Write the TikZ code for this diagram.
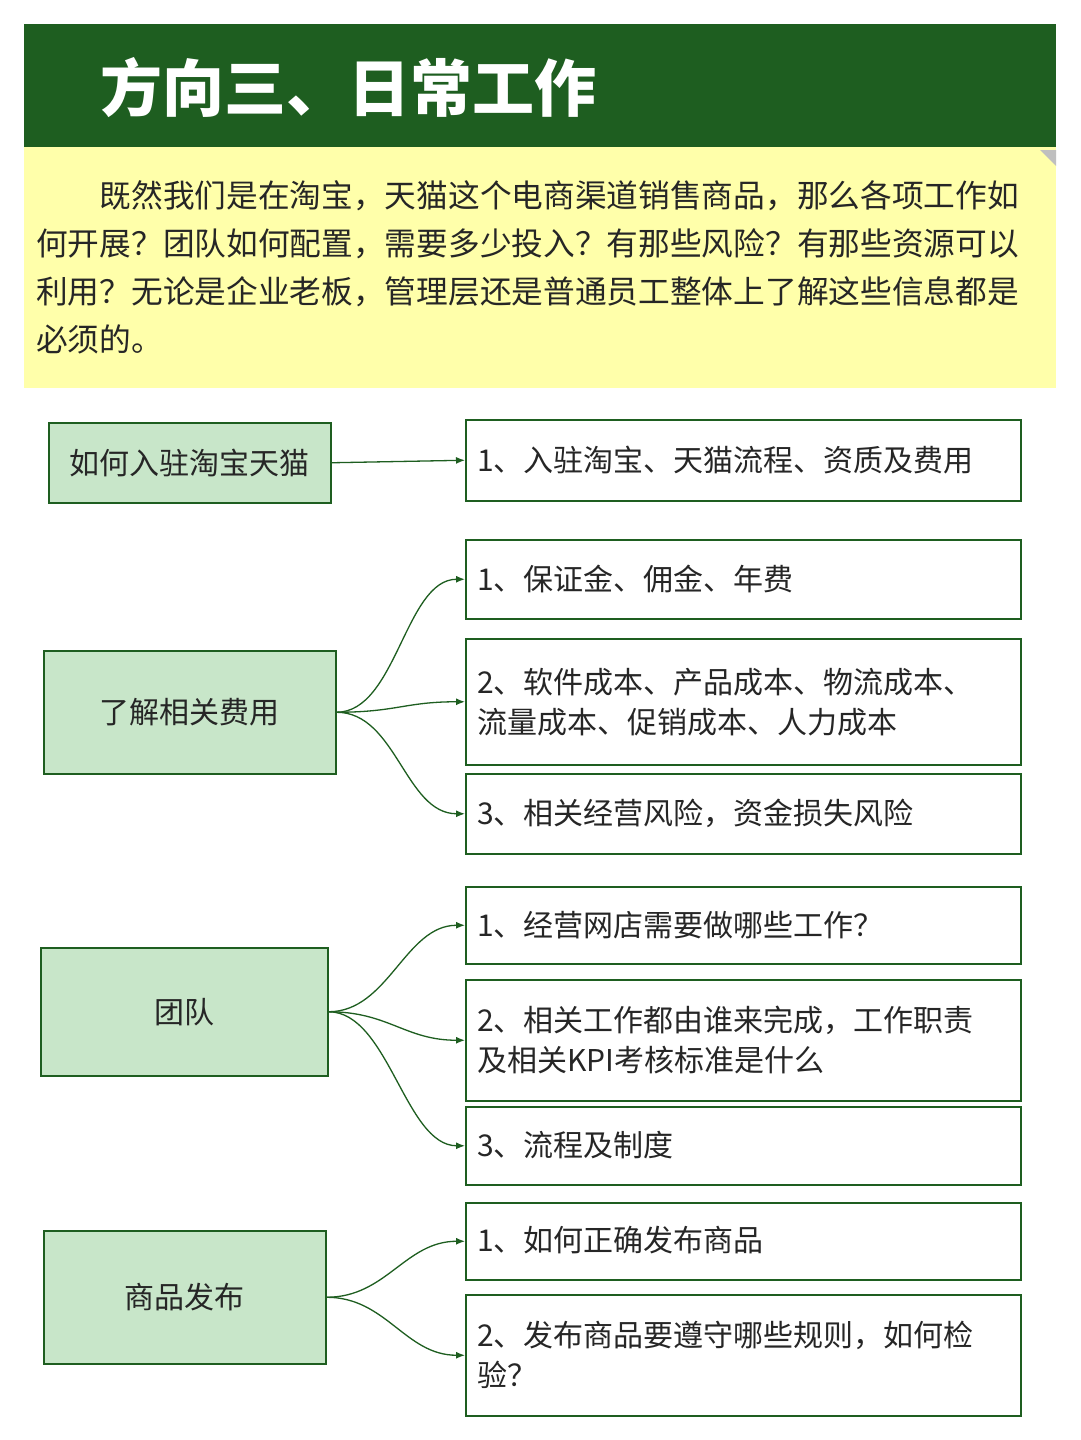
\documentclass[tikz,border=0pt]{standalone}
\usepackage{fontspec}
\setmainfont{Noto Sans CJK SC}
\usetikzlibrary{arrows.meta}
\definecolor{dg}{HTML}{1E5E20}
\definecolor{yb}{HTML}{FFFFAA}
\definecolor{lg}{HTML}{C8E6C9}
\tikzset{
 lbox/.style={draw=dg,fill=lg,line width=1.5pt,anchor=north west,inner sep=0pt,font=\fontsize{30}{36}\selectfont,text=black!85},
 rbox/.style={draw=dg,fill=white,line width=1.5pt,anchor=north west,inner sep=0pt},
 rtext/.style={anchor=west,align=left,inner sep=0pt,font=\fontsize{30}{40}\selectfont,text=black!85},
 conn/.style={draw=dg,line width=1.3pt,-{Latex[length=9pt,width=7pt]}}
}
\begin{document}
\begin{tikzpicture}[x=1pt,y=-1pt]
\useasboundingbox (0,0) rectangle (1080,1440);
\fill[white] (0,0) rectangle (1080,1440);
\fill[dg] (24,24) rectangle (1056,147);
\node[anchor=west,text=white,font=\fontsize{62}{70}\selectfont\bfseries,inner sep=0pt] (title) at (100,88) {方向三、日常工作};
\fill[yb] (24,147) rectangle (1056,388);
\fill[gray!50] (1040,150) -- (1056,150) -- (1056,166) -- cycle;
\node[anchor=north west,align=left,inner sep=0pt,font=\fontsize{31.7}{48}\selectfont,text=black!85] (intro) at (36,180)
{\hspace*{63.4pt}既然我们是在淘宝，天猫这个电商渠道销售商品，那么各项工作如\\何开展？团队如何配置，需要多少投入？有那些风险？有那些资源可以\\利用？无论是企业老板，管理层还是普通员工整体上了解这些信息都是\\必须的。};
% left boxes
\node[lbox,minimum width=282pt,minimum height=80pt] (L1) at (48,422) {如何入驻淘宝天猫};
\node[lbox,minimum width=292pt,minimum height=123pt] (L2) at (43,650) {了解相关费用};
\node[lbox,minimum width=287pt,minimum height=128pt] (L3) at (40,947) {团队};
\node[lbox,minimum width=282pt,minimum height=133pt] (L4) at (43,1230) {商品发布};
% right boxes
\node[rbox,minimum width=555pt,minimum height=81pt] (Ra) at (465,419) {};
\node[rbox,minimum width=555pt,minimum height=79pt] (Rb) at (465,539) {};
\node[rbox,minimum width=555pt,minimum height=126pt] (Rc) at (465,638) {};
\node[rbox,minimum width=555pt,minimum height=80pt] (Rd) at (465,773) {};
\node[rbox,minimum width=555pt,minimum height=77pt] (Re) at (465,886) {};
\node[rbox,minimum width=555pt,minimum height=121pt] (Rf) at (465,979) {};
\node[rbox,minimum width=555pt,minimum height=78pt] (Rg) at (465,1106) {};
\node[rbox,minimum width=555pt,minimum height=77pt] (Rh) at (465,1202) {};
\node[rbox,minimum width=555pt,minimum height=121pt] (Ri) at (465,1294) {};
\node[rtext] (ta) at (477,460) {1、入驻淘宝、天猫流程、资质及费用};
\node[rtext] (tb) at (477,579) {1、保证金、佣金、年费};
\node[rtext] (tc) at (477,702) {2、软件成本、产品成本、物流成本、\\流量成本、促销成本、人力成本};
\node[rtext] (td) at (477,813) {3、相关经营风险，资金损失风险};
\node[rtext] (te) at (477,925) {1、经营网店需要做哪些工作？};
\node[rtext] (tf) at (477,1040) {2、相关工作都由谁来完成，工作职责\\及相关KPI考核标准是什么};
\node[rtext] (tg) at (477,1145) {3、流程及制度};
\node[rtext] (th) at (477,1240) {1、如何正确发布商品};
\node[rtext] (ti) at (477,1355) {2、发布商品要遵守哪些规则，如何检\\验？};
% connectors
\draw[conn] (L1.east) -- (Ra.west);
\foreach \r in {Rb,Rc,Rd}{\draw[conn] (L2.east) .. controls +(60,0) and +(-60,0) .. (\r.west);}
\foreach \r in {Re,Rf,Rg}{\draw[conn] (L3.east) .. controls +(60,0) and +(-60,0) .. (\r.west);}
\foreach \r in {Rh,Ri}{\draw[conn] (L4.east) .. controls +(60,0) and +(-60,0) .. (\r.west);}
\end{tikzpicture}
\end{document}
